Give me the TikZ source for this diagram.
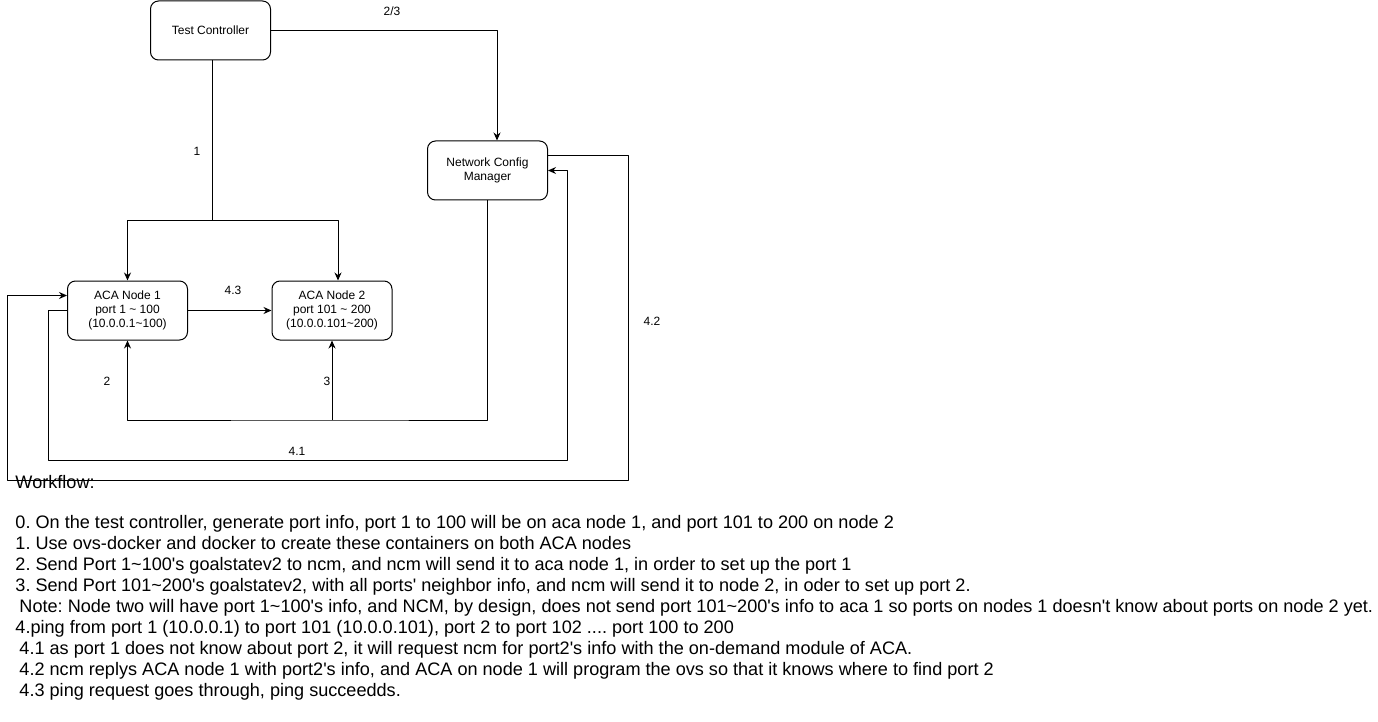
\documentclass[tikz,border=0pt]{standalone}
\usepackage{fontspec}
\setmainfont{Liberation Sans}[Ligatures=TeXOff]
\usetikzlibrary{arrows.meta}
\newcommand{\tild}{\textasciitilde}
\newcommand{\fourdots}{....}
\frenchspacing
\begin{document}
\begin{tikzpicture}[x=1pt,y=-1pt,>={Stealth[length=8pt,width=7pt]}, line width=1pt, line join=round,
	box/.style={draw, rounded corners=8pt, minimum width=120pt, minimum height=59pt, align=center, inner sep=0pt, font=\fontsize{12}{14}\selectfont},
	lbl/.style={inner sep=0pt, font=\fontsize{12}{14}\selectfont},
	steptext/.style={anchor=base west, inner sep=0pt, font=\fontsize{18.1}{21}\selectfont}]
	\useasboundingbox (0,0) rectangle (1378,722);
	% boxes
	\node[box] (tc) at (210.5,30.5) {Test Controller};
	\node[box] (ncm) at (487.5,170.5) {Network Config\\Manager};
	\node[box] (aca1) at (127.5,310.5) {ACA Node 1\\port 1 \tild{} 100\\(10.0.0.1\tild100)};
	\node[box] (aca2) at (332,310.5) {ACA Node 2\\port 101 \tild{} 200\\(10.0.0.101\tild200)};
	% bends
	\coordinate (split) at (212,220);
	\coordinate (join) at (332,420);
	\coordinate (l41) at (48,460);
	\coordinate (r41) at (567,460);
	\coordinate (r42) at (628,480);
	\coordinate (l42) at (7,480);
	% connectors
	\draw[->] (tc.east) -| ([xshift=9.5pt]ncm.north);
	\draw (tc.south -| split) -- (split);
	\draw[->] (split) -| (aca1.north);
	\draw[->] (split) -| ([xshift=6pt]aca2.north);
	\draw[->] (ncm.south) |- (join) -| (aca1.south);
	\draw[->] (join) -- (aca2.south);
	\draw[->] (aca1.west) -| (l41) -- (r41) |- (ncm.east);
	\draw[->] ([yshift=15pt]ncm.east) -| (r42) -- (l42) |- ([yshift=15pt]aca1.west);
	\draw[->] (aca1.east) -- (aca2.west);
	% labels
	\node[lbl] (t23) at (392,11) {2/3};
	\node[lbl] (t1) at (197,151) {1};
	\node[lbl] (t43) at (233,290) {4.3};
	\node[lbl] (t2) at (107,381) {2};
	\node[lbl] (t3) at (327,381) {3};
	\node[lbl] (t41) at (297,451) {4.1};
	\node[lbl] (t42) at (652,321) {4.2};
	% workflow text
	\node[steptext] (wf) at (15,488) {Workflow:};
	\foreach \txt [count=\i from 0] in {
		{0. On the test controller, generate port info, port 1 to 100 will be on aca node 1, and port 101 to 200 on node 2},
		{1. Use ovs-docker and docker to create these containers on both ACA nodes},
		{2. Send Port 1\tild100's goalstatev2 to ncm, and ncm will send it to aca node 1, in order to set up the port 1},
		{3. Send Port 101\tild200's goalstatev2, with all ports' neighbor info, and ncm will send it to node 2, in oder to set up port 2.},
		{\hspace*{4pt}Note: Node two will have port 1\tild100's info, and NCM, by design, does not send port 101\tild200's info to aca 1 so ports on nodes 1 doesn't know about ports on node 2 yet.},
		{4.ping from port 1 (10.0.0.1) to port 101 (10.0.0.101), port 2 to port 102 \fourdots{} port 100 to 200},
		{\hspace*{4pt}4.1 as port 1 does not know about port 2, it will request ncm for port2's info with the on-demand module of ACA.},
		{\hspace*{4pt}4.2 ncm replys ACA node 1 with port2's info, and ACA on node 1 will program the ovs so that it knows where to find port 2},
		{\hspace*{4pt}4.3 ping request goes through, ping succeedds.}}
		\node[steptext] (line\i) at (15,{528+21.1*\i}) {\txt};
\end{tikzpicture}
\end{document}
